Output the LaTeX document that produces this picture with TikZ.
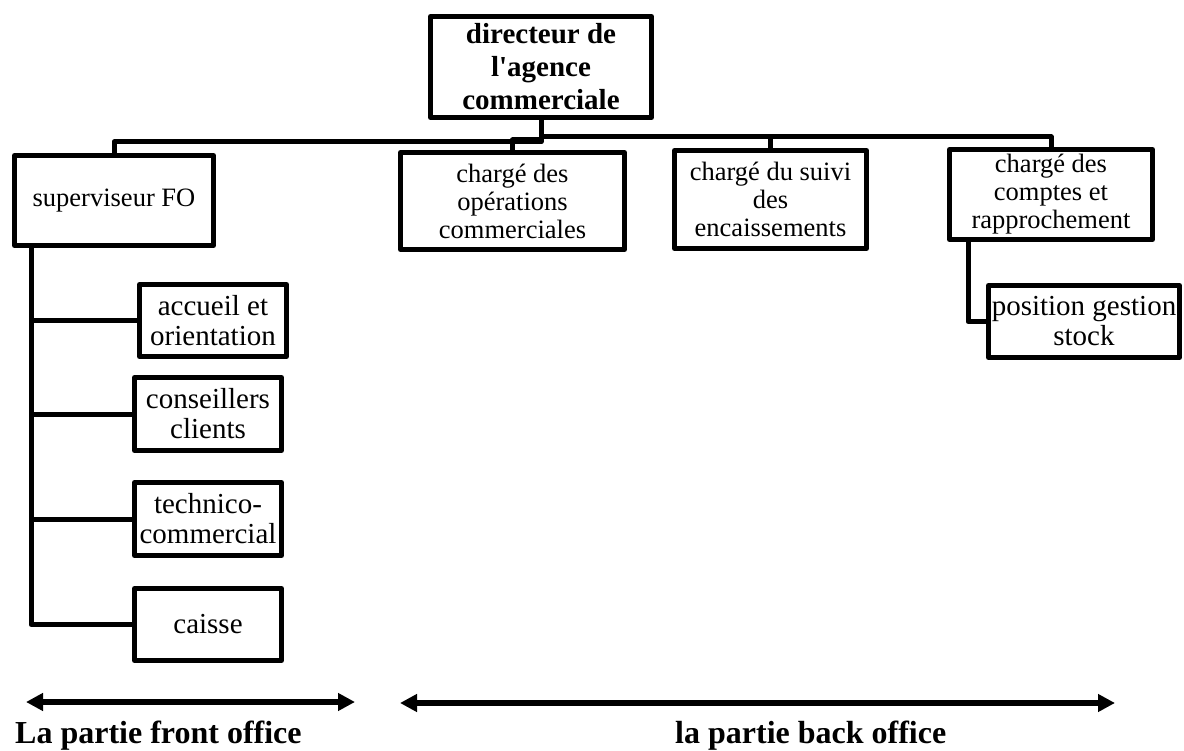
\documentclass[tikz,border=0pt]{standalone}
\usepackage{fontspec}
\setmainfont{Liberation Serif}[Ligatures=TeXOff]
\usetikzlibrary{arrows.meta}
\begin{document}
\begin{tikzpicture}[x=1pt,y=-1pt,
  box/.style={draw, line width=5pt, line join=round, inner sep=0pt, align=center, fill=white},
  topbox/.style={box, font=\fontsize{26.5}{28}\selectfont},
  subbox/.style={box, font=\fontsize{29}{30}\selectfont},
  headbox/.style={box, font=\fontsize{29}{33}\selectfont\bfseries},
  link/.style={line width=5pt, line join=round},
  span/.style={line width=5.5pt, {Triangle[length=17pt,width=17pt]}-{Triangle[length=17pt,width=17pt]}},
  zone/.style={font=\fontsize{32}{34}\selectfont\bfseries, inner sep=0pt, anchor=base west}]
\useasboundingbox (0,0) rectangle (1184,751);

% head of the agency
\node[headbox, minimum width=221pt, minimum height=101pt] (dir) at (541,67)
  {directeur de\\l'agence\\commerciale};

% first level
\node[topbox, minimum width=199pt, minimum height=90pt] (sup) at (114,200.5) {superviseur FO};
\node[topbox, minimum width=224pt, minimum height=97pt] (ops) at (512.5,201)
  {chargé des\\opérations\\commerciales};
\node[topbox, minimum width=192pt, minimum height=98pt] (enc) at (770.5,199.5)
  {chargé du suivi\\des\\encaissements};
\node[topbox, minimum width=203pt, minimum height=90pt] (cpt) at (1051,194.5)
  {chargé des\\comptes et\\rapprochement};

% front office staff
\node[subbox, minimum width=147pt, minimum height=72pt] (acc) at (213,320.5) {accueil et\\orientation};
\node[subbox, minimum width=147pt, minimum height=73pt] (con) at (208,414) {conseillers\\clients};
\node[subbox, minimum width=147pt, minimum height=73pt] (tec) at (208,519) {technico-\\commercial};
\node[subbox, minimum width=147pt, minimum height=72pt] (cai) at (208,624.5) {caisse};

% back office staff
\node[subbox, minimum width=191pt, minimum height=72pt] (pos) at (1084,321.5) {position gestion\\stock};

% links from the director
\draw[link] (dir.south) -- ++(0,22) -| (sup.north);
\draw[link] (dir.south) -- ++(0,20) -| (ops.north);
\draw[link] (dir.south) -- ++(0,17) -| (enc.north);
\draw[link] (dir.south) -- ++(0,17) -| (cpt.north);

% front office trunk
\draw[link] ([xshift=19pt]sup.south west) |- (acc.west);
\draw[link] ([xshift=19pt]sup.south west) |- (con.west);
\draw[link] ([xshift=19pt]sup.south west) |- (tec.west);
\draw[link] ([xshift=19pt]sup.south west) |- (cai.west);

% accounts to stock
\draw[link] ([xshift=21pt]cpt.south west) |- (pos.west);

% office zones
\coordinate (fol) at (26,702);
\coordinate (for) at (355,702);
\coordinate (bol) at (400,703);
\coordinate (bor) at (1115,703);
\draw[span] (fol) -- (for);
\draw[span] (bol) -- (bor);
\node[zone] (fo) at (15,743) {La partie front office};
\node[zone] (bo) at (675,743) {la partie back office};
\end{tikzpicture}
\end{document}
